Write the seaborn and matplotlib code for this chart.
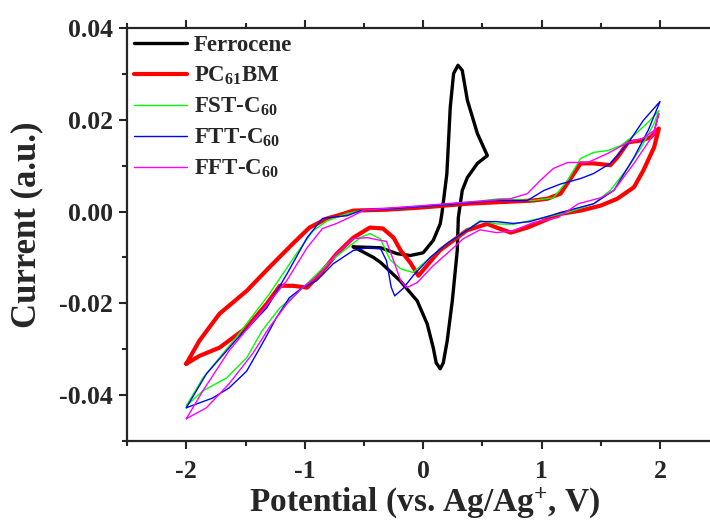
import matplotlib
matplotlib.use("Agg")
import matplotlib.pyplot as plt
from matplotlib.ticker import MultipleLocator
import seaborn as sns

# cyclic voltammetry curves (potential V, current a.u.)
ferrocene_x = [-0.59, -0.36, -0.22, -0.11, 0.0, 0.085, 0.144, 0.158, 0.2, 0.229, 0.257, 0.294,
               0.33, 0.373, 0.458, 0.542, 0.458, 0.373, 0.33, 0.297, 0.288, 0.246, 0.203, 0.17,
               0.144, 0.11, 0.085, 0.034, -0.05, -0.195, -0.36, -0.42, -0.59]
ferrocene_y = [-0.0077, -0.0079, -0.0092, -0.0096, -0.0090, -0.0063, -0.0027, -0.0005, 0.0082,
               0.0228, 0.0301, 0.0319, 0.0308, 0.0243, 0.0170, 0.0122, 0.0105, 0.0074, 0.0046,
               -0.0013, -0.0085, -0.0195, -0.0282, -0.0330, -0.0343, -0.0330, -0.0297, -0.0245,
               -0.0195, -0.0151, -0.0111, -0.0100, -0.0077]

pcbm_x = [-2.0, -1.89, -1.72, -1.49, -1.30, -1.10, -0.96, -0.81, -0.70, -0.59, -0.31, 0.0, 0.37,
          0.93, 1.05, 1.16, 1.25, 1.33, 1.44, 1.58, 1.64, 1.73, 1.84, 1.92, 1.99,
          1.95, 1.86, 1.78, 1.64, 1.50, 1.33, 1.16, 1.02, 0.88, 0.74, 0.62, 0.54, 0.37, 0.14,
          -0.04, -0.11, -0.19, -0.25, -0.34, -0.45, -0.59, -0.73, -0.87, -0.98, -1.10, -1.21,
          -1.32, -1.49, -1.72, -1.89, -2.0]
pcbm_y = [-0.0332, -0.0282, -0.0223, -0.0173, -0.0122, -0.0070, -0.0035, -0.0015, -0.0007, 0.0002,
          0.0004, 0.0009, 0.0017, 0.0024, 0.0028, 0.0039, 0.0074, 0.0105, 0.0105, 0.0101, 0.0118,
          0.0151, 0.0155, 0.0162, 0.0181,
          0.0140, 0.0090, 0.0053, 0.0028, 0.0013, 0.0002, -0.0005, -0.0020, -0.0035, -0.0046,
          -0.0035, -0.0027, -0.0041, -0.0085, -0.0140, -0.0111, -0.0085, -0.0057, -0.0037,
          -0.0035, -0.0057, -0.0092, -0.0136, -0.0166, -0.0162, -0.0162, -0.0201, -0.0253,
          -0.0297, -0.0315, -0.0332]

fst_x = [-2.0, -1.86, -1.58, -1.30, -1.07, -0.93, -0.81, -0.64, -0.53, -0.2, 0.2, 0.65, 0.93, 1.1,
         1.22, 1.33, 1.44, 1.56, 1.67, 1.78, 1.9, 1.99,
         1.95, 1.84, 1.73, 1.58, 1.44, 1.22, 0.9, 0.76, 0.62, 0.48, 0.34, 0.2, 0.06, -0.085,
         -0.19, -0.28, -0.36, -0.45, -0.53, -0.64, -0.81, -0.98, -1.07, -1.21, -1.36, -1.49,
         -1.66, -1.86, -2.0]
fst_y = [-0.0424, -0.0363, -0.0275, -0.0180, -0.0092, -0.0042, -0.0020, -0.0004, 0.0002, 0.0007,
         0.0015, 0.0028, 0.0024, 0.0030, 0.0068, 0.0116, 0.0129, 0.0133, 0.0144, 0.0166, 0.0195,
         0.0220,
         0.0192, 0.0140, 0.0096, 0.0046, 0.0017, -0.0002, -0.0020, -0.0028, -0.0027, -0.0020,
         -0.0046, -0.0070, -0.0100, -0.0133, -0.0125, -0.0105, -0.0060, -0.0048, -0.0057,
         -0.0079, -0.0114, -0.0157, -0.0180, -0.0210, -0.0260, -0.0319, -0.0363, -0.0391, -0.0424]

ftt_x = [-2.0, -1.83, -1.58, -1.32, -1.15, -0.98, -0.85, -0.64, -0.53, -0.2, 0.2, 0.6, 0.88, 1.02,
         1.16, 1.33, 1.44, 1.58, 1.73, 1.86, 2.0,
         1.9, 1.78, 1.61, 1.44, 1.22, 0.9, 0.76, 0.62, 0.48, 0.34, 0.2, 0.06, -0.085, -0.17,
         -0.24, -0.27, -0.31, -0.36, -0.47, -0.59, -0.76, -0.9, -1.02, -1.13, -1.24, -1.36,
         -1.49, -1.64, -1.78, -2.0]
ftt_y = [-0.0428, -0.0354, -0.0280, -0.0210, -0.0136, -0.0057, -0.0015, -0.0009, 0.0002, 0.0007,
         0.0015, 0.0024, 0.0024, 0.0046, 0.0060, 0.0072, 0.0083, 0.0105, 0.0149, 0.0199, 0.0240,
         0.0177, 0.0118, 0.0046, 0.0017, 0.0002, -0.0022, -0.0026, -0.0022, -0.0022, -0.0046,
         -0.0070, -0.0100, -0.0140, -0.0168, -0.0184, -0.0165, -0.0107, -0.0081, -0.0079,
         -0.0085, -0.0114, -0.0151, -0.0166, -0.0188, -0.0232, -0.0289, -0.0348, -0.0385,
         -0.0407, -0.0428]

fft_x = [-2.0, -1.86, -1.64, -1.38, -1.15, -0.98, -0.85, -0.73, -0.59, -0.5, -0.2, 0.2, 0.6, 0.74,
         0.88, 0.99, 1.1, 1.22, 1.39, 1.56, 1.73, 1.86, 1.95, 1.99,
         1.95, 1.78, 1.61, 1.5, 1.31, 1.14, 0.93, 0.76, 0.62, 0.48, 0.34, 0.2, 0.085, -0.05,
         -0.14, -0.19, -0.25, -0.31, -0.36, -0.47, -0.59, -0.73, -0.87, -1.02, -1.15, -1.3,
         -1.44, -1.64, -1.83, -2.0]
fft_y = [-0.0452, -0.0391, -0.0304, -0.0223, -0.0150, -0.0079, -0.0037, -0.0026, -0.0009, 0.0003,
         0.0009, 0.0017, 0.0025, 0.0028, 0.0039, 0.0068, 0.0094, 0.0107, 0.0107, 0.0127, 0.0151,
         0.0160, 0.0177, 0.0214,
         0.0170, 0.0105, 0.0046, 0.0030, 0.0017, -0.0013, -0.0024, -0.0042, -0.0046, -0.0040,
         -0.0059, -0.0092, -0.0118, -0.0155, -0.0166, -0.0151, -0.0107, -0.0065, -0.0063,
         -0.0057, -0.0059, -0.0092, -0.0136, -0.0166, -0.0201, -0.0253, -0.0310, -0.0376,
         -0.0428, -0.0452]

labels = ["Ferrocene", "PC$_{61}$BM", "FST-C$_{60}$", "FTT-C$_{60}$", "FFT-C$_{60}$"]
colors = ["#000000", "#ff0000", "#00ff00", "#0000ff", "#ff00ff"]
widths = [2.4, 3.0, 1.0, 1.0, 1.0]

sns.set_style("ticks")
plt.rcParams["font.family"] = ["Liberation Serif", "DejaVu Serif"]
plt.rcParams["font.weight"] = "bold"
plt.rcParams["axes.unicode_minus"] = False
plt.rcParams["mathtext.fontset"] = "custom"
plt.rcParams["mathtext.rm"] = "Liberation Serif:bold"
plt.rcParams["mathtext.it"] = "Liberation Serif:bold"
plt.rcParams["mathtext.bf"] = "Liberation Serif:bold"
plt.rcParams["mathtext.default"] = "rm"

fig = plt.figure(figsize=(7.1, 5.21), dpi=100)
ax = fig.add_axes([0.179, 0.154, 0.834, 0.792])

curves = [(ferrocene_x, ferrocene_y), (pcbm_x, pcbm_y), (fst_x, fst_y),
          (ftt_x, ftt_y), (fft_x, fft_y)]
for (xs, ys), lab, col, lw in zip(curves, labels, colors, widths):
    sns.lineplot(x=xs, y=ys, sort=False, estimator=None, color=col, linewidth=lw,
                 label=lab, ax=ax)

ax.set_xlim(-2.5, 2.5)
ax.set_ylim(-0.05, 0.04)
ax.xaxis.set_major_locator(MultipleLocator(1))
ax.xaxis.set_minor_locator(MultipleLocator(0.5))
ax.yaxis.set_major_locator(MultipleLocator(0.02))
ax.yaxis.set_minor_locator(MultipleLocator(0.01))
ax.yaxis.set_major_formatter(plt.FuncFormatter(lambda v, p: f"{v:.2f}"))
ax.tick_params(which="major", direction="out", length=6, width=1.5, labelsize=18.5,
               top=True, right=False, pad=4)
ax.tick_params(axis="x", which="major", pad=8)
ax.tick_params(which="minor", direction="out", length=3.5, width=1.5, top=True, right=False)
for lab in ax.get_xticklabels() + ax.get_yticklabels():
    lab.set_fontweight("bold")
for sp in ax.spines.values():
    sp.set_linewidth(1.6)

ax.set_xlabel("Potential (vs. Ag/Ag$^{+}$, V)", fontsize=24, fontweight="bold")
ax.set_ylabel("Current (a.u.)", fontsize=25, fontweight="bold")
ax.xaxis.set_label_coords(0.502, -0.108)
ax.yaxis.set_label_coords(-0.142, 0.523)

leg = ax.legend(loc="upper left", frameon=False, handlelength=2.3,
                handletextpad=0.3, labelspacing=0.38, borderaxespad=0.05,
                borderpad=0.25, prop={"weight": "bold", "size": 16.5})

fig.savefig("out.png", dpi=100)
plt.close(fig)
